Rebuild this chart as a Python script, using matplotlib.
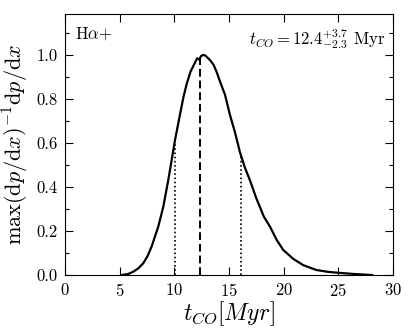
import numpy as np
import matplotlib
matplotlib.use("Agg")
import matplotlib.pyplot as plt
from matplotlib.ticker import MultipleLocator

# --- Daten ---
t_co = [5.2, 5.8, 6.25, 6.7, 7.16, 7.55, 7.93, 8.54, 9.0, 9.45, 9.76, 10.06,
        10.55, 10.85, 11.15, 11.5, 11.85, 12.1, 12.3, 12.45, 12.65, 12.85,
        13.0, 13.3, 13.6, 13.9, 14.18, 14.64, 15.1, 15.55, 16.0, 16.45,
        16.93, 17.5, 18.2, 18.76, 19.37, 19.97, 20.9, 21.8, 23.0, 24.0,
        24.85, 26.4, 28.1]
pdf = [0.0, 0.005, 0.015, 0.03, 0.053, 0.085, 0.129, 0.22, 0.31, 0.43, 0.52,
       0.61, 0.735, 0.81, 0.87, 0.925, 0.96, 0.985, 0.978, 0.995, 1.0, 0.997,
       0.99, 0.975, 0.955, 0.92, 0.88, 0.82, 0.727, 0.65, 0.56, 0.49,
       0.43, 0.35, 0.265, 0.22, 0.16, 0.114, 0.073, 0.045, 0.023, 0.015,
       0.011, 0.005, 0.0]

t_median = 12.4
t_low = 10.1
t_high = 16.1

# --- Stil ---
plt.rcParams["font.family"] = "serif"
plt.rcParams["font.serif"] = ["cmr10", "DejaVu Serif"]
plt.rcParams["mathtext.fontset"] = "cm"
plt.rcParams["axes.formatter.use_mathtext"] = True

fig = plt.figure(figsize=(4.08, 3.33), dpi=100)
ax = fig.add_axes([0.159, 0.174, 0.804, 0.784])

t = np.array(t_co)
p = np.array(pdf)

ax.plot(t, p, color="black", lw=1.6)

ax.vlines(t_median, 0, np.interp(t_median, t, p), color="black", lw=1.4,
          linestyles=(0, (4, 2)))
for tv in (t_low, t_high):
    ax.vlines(tv, 0, np.interp(tv, t, p), color="black", lw=1.2,
              linestyles=(0, (1, 1.5)))

ax.set_xlim(0, 30)
ax.set_ylim(0, 1.186)
ax.xaxis.set_major_locator(MultipleLocator(5))
ax.yaxis.set_major_locator(MultipleLocator(0.2))
ax.yaxis.set_minor_locator(MultipleLocator(0.1))
ax.yaxis.set_major_formatter(plt.FuncFormatter(lambda v, _: f"{v:.1f}"))

ax.tick_params(which="both", direction="in", top=True, right=True,
               labelsize=12)
ax.tick_params(which="major", length=6, width=0.8, pad=5)
ax.tick_params(which="minor", length=3, width=0.8)

ax.set_xlabel(r"$t_{CO}[Myr]$", fontsize=17, labelpad=0)
ax.set_ylabel(r"$\max(\mathrm{d}p/\mathrm{d}x)^{-1}\mathrm{d}p/\mathrm{d}x$",
              fontsize=16, labelpad=4)

ax.text(0.03, 0.955, r"H$\alpha$+", transform=ax.transAxes, fontsize=12,
        ha="left", va="top")
ax.text(0.975, 0.955, r"$t_{CO}=12.4^{+3.7}_{-2.3}$ Myr",
        transform=ax.transAxes, fontsize=12, ha="right", va="top")

fig.savefig("out.png", dpi=100)
